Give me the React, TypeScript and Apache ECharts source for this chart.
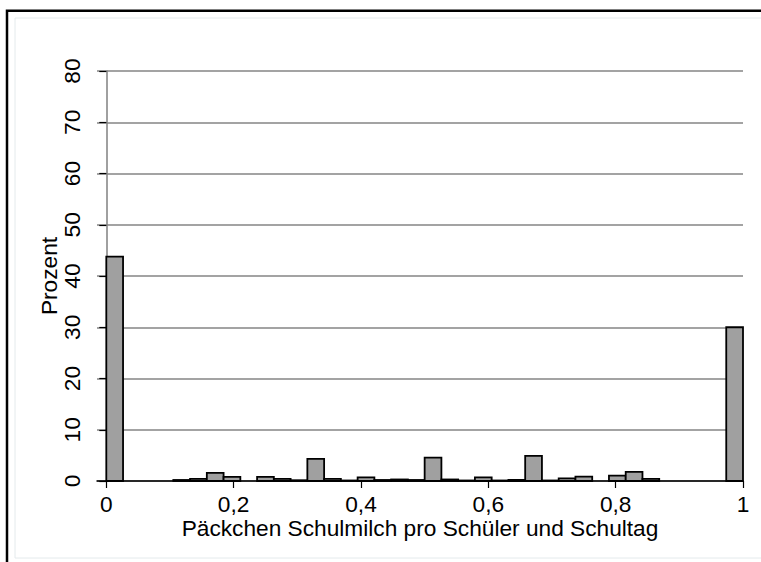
import React, { useEffect, useRef } from "react";
import * as echarts from "echarts";

// Histogram: 38 bins of width 1/38 over [0, 1]
const binCount = 38;
const percentValues = [
  43.8, 0, 0, 0, 0.2, 0.4, 1.6, 0.8, 0, 0.8,
  0.4, 0.15, 4.3, 0.4, 0.1, 0.7, 0.2, 0.3, 0.2, 4.55,
  0.3, 0.1, 0.7, 0.1, 0.2, 4.9, 0.1, 0.5, 0.85, 0,
  1.05, 1.8, 0.4, 0, 0, 0, 0, 30,
];
const xTickValues = [0, 0.2, 0.4, 0.6, 0.8, 1];
const yAxisName = "Prozent";
const xAxisName = "Päckchen Schulmilch pro Schüler und Schultag";

const FONT = "'Liberation Sans', Arial, sans-serif";
const FS = 22.7;

export default function App() {
  const ref = useRef<HTMLDivElement>(null);
  useEffect(() => {
    if (!ref.current) return;
    const chart = echarts.init(ref.current, undefined, { renderer: "svg" });
    const data = percentValues
      .map((v, i) => [i / binCount, (i + 1) / binCount, v])
      .filter((d) => d[2] > 0);
    chart.setOption({
      animation: false,
      backgroundColor: "#ffffff",
      textStyle: { fontFamily: FONT },
      grid: { left: 97, right: 18, top: 71, bottom: 81 },
      xAxis: {
        type: "value",
        min: -0.0146,
        max: 1,
        name: xAxisName,
        nameLocation: "middle",
        nameGap: 35,
        nameMoveOverlap: false,
        nameTextStyle: { fontSize: FS, color: "#000", fontFamily: FONT },
        axisLine: { show: true, onZero: false, lineStyle: { color: "#000", width: 1.5 } },
        axisTick: {
          show: true,
          length: 7,
          customValues: xTickValues,
          lineStyle: { color: "#000", width: 1.2 },
        },
        axisLabel: {
          customValues: xTickValues,
          margin: 11,
          fontSize: FS,
          color: "#000",
          fontFamily: FONT,
          formatter: (v: number) => String(Math.round(v * 10) / 10).replace(".", ","),
        },
        splitLine: { show: false },
      },
      yAxis: {
        type: "value",
        min: 0,
        max: 80,
        interval: 10,
        name: yAxisName,
        nameLocation: "middle",
        nameRotate: 90,
        nameGap: 37,
        nameMoveOverlap: false,
        nameTextStyle: { fontSize: FS, color: "#000", fontFamily: FONT },
        axisLine: { show: true, lineStyle: { color: "#808080", width: 1.5 } },
        axisTick: { show: true, length: 7, lineStyle: { color: "#000", width: 1.2 } },
        axisLabel: {
          rotate: 90,
          margin: 14,
          fontSize: FS,
          color: "#000",
          fontFamily: FONT,
        },
        splitLine: { show: true, lineStyle: { color: "#858585", width: 1.5 } },
      },
      graphic: [
        {
          type: "rect",
          silent: true,
          shape: { x: 15, y: 18, width: 800, height: 540 },
          style: { fill: "none", stroke: "#e4eaec", lineWidth: 1 },
        },
        {
          type: "rect",
          silent: true,
          shape: { x: 7, y: 10.7, width: 820, height: 620 },
          style: { fill: "none", stroke: "#000", lineWidth: 2.5 },
        },
      ],
      series: [
        {
          type: "custom",
          data,
          encode: { x: [0, 1], y: 2 },
          renderItem: (params: any, api: any) => {
            const p0 = api.coord([api.value(0), 0]);
            const p1 = api.coord([api.value(1), api.value(2)]);
            return {
              type: "rect",
              shape: { x: p0[0], y: p1[1], width: p1[0] - p0[0], height: p0[1] - p1[1] },
              style: { fill: "#a0a0a0", stroke: "#000", lineWidth: 1.8 },
            };
          },
        },
      ],
    });
    return () => chart.dispose();
  }, []);
  return (
    <div
      ref={ref}
      style={{ position: "fixed", left: 0, top: 0, width: 761, height: 562 }}
    />
  );
}
